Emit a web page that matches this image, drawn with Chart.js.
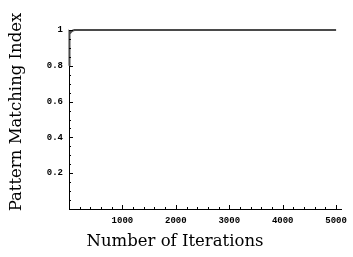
<!DOCTYPE html>
<html>
<head>
<meta charset="utf-8">
<script src="https://cdn.jsdelivr.net/npm/chart.js@4"></script>
<style>
  html, body { margin: 0; padding: 0; background: #fff; }
  #wrap { width: 353px; height: 257px; }
</style>
</head>
<body>
<div id="wrap"><canvas id="chart"></canvas></div>
<script>
// iterations vs pattern matching index
var iterations = [0, 3, 8, 15, 25, 40, 60, 100, 300, 1000, 2000, 3000, 4000, 5000];
var matchIndex = [0.80, 0.95, 0.985, 0.99, 0.985, 0.99, 0.995, 1, 1, 1, 1, 1, 1, 1];
var xTicks = [1000, 2000, 3000, 4000, 5000];
var yTicks = [0.2, 0.4, 0.6, 0.8, 1];
var xTitle = 'Number of Iterations';
var yTitle = 'Pattern Matching Index';

var pts = iterations.map(function (x, i) { return {x: x, y: matchIndex[i]}; });

// mathematica style: small ticks pointing into the plot + axis titles
var axisDeco = {
  id: 'axisDeco',
  afterDraw: function (chart) {
    var c = chart.ctx, xs = chart.scales.x, ys = chart.scales.y;
    var ox = chart.chartArea.left, oy = chart.chartArea.bottom;
    c.save();
    c.strokeStyle = '#000';
    c.lineWidth = 1;
    c.beginPath();
    for (var v = 200; v <= 5000; v += 200) {
      var px = Math.round(xs.getPixelForValue(v)) + 0.5;
      var len = (v % 1000 === 0) ? 4 : 2;
      c.moveTo(px, oy); c.lineTo(px, oy - len);
    }
    for (var k = 1; k <= 20; k++) {
      var py = Math.round(ys.getPixelForValue(k * 0.05)) + 0.5;
      var l2 = (k % 4 === 0) ? 4 : 2;
      c.moveTo(ox, py); c.lineTo(ox + l2, py);
    }
    c.stroke();

    c.fillStyle = '#000';
    c.font = '16.5px "DejaVu Serif"';
    c.textAlign = 'center';
    c.textBaseline = 'middle';
    c.fillText(xTitle, 175, 242);
    c.translate(17, 112);
    c.rotate(-Math.PI / 2);
    c.fillText(yTitle, 0, 0);
    c.restore();
  }
};

new Chart(document.getElementById('chart'), {
  type: 'line',
  data: {
    datasets: [{
      data: pts,
      borderColor: '#4a4a4a',
      borderWidth: 2,
      pointRadius: 0,
      tension: 0,
      clip: false
    }]
  },
  options: {
    responsive: true,
    maintainAspectRatio: false,
    animation: false,
    layout: { padding: { top: 30, right: 5, left: 0, bottom: 0 } },
    plugins: { legend: { display: false }, tooltip: { enabled: false } },
    scales: {
      x: {
        type: 'linear',
        min: 0,
        max: 5100,
        afterBuildTicks: function (s) { s.ticks = xTicks.map(function (v) { return {value: v}; }); },
        afterFit: function (s) { s.height = 48; },
        grid: { display: false, drawTicks: false },
        border: { display: true, color: '#000', width: 1 },
        ticks: {
          padding: 6,
          maxRotation: 0,
          color: '#000',
          font: { family: '"Liberation Mono"', size: 9, weight: 'bold' },
          callback: function (v) { return String(v); }
        }
      },
      y: {
        min: 0,
        max: 1,
        afterBuildTicks: function (s) { s.ticks = yTicks.map(function (v) { return {value: v}; }); },
        afterFit: function (s) { s.width = 69; },
        grid: { display: false, drawTicks: false },
        border: { display: true, color: '#000', width: 1 },
        ticks: {
          padding: 6,
          color: '#000',
          font: { family: '"Liberation Mono"', size: 9, weight: 'bold' },
          callback: function (v) { return String(Math.round(v * 10) / 10); }
        }
      }
    }
  },
  plugins: [axisDeco]
});
</script>
</body>
</html>
